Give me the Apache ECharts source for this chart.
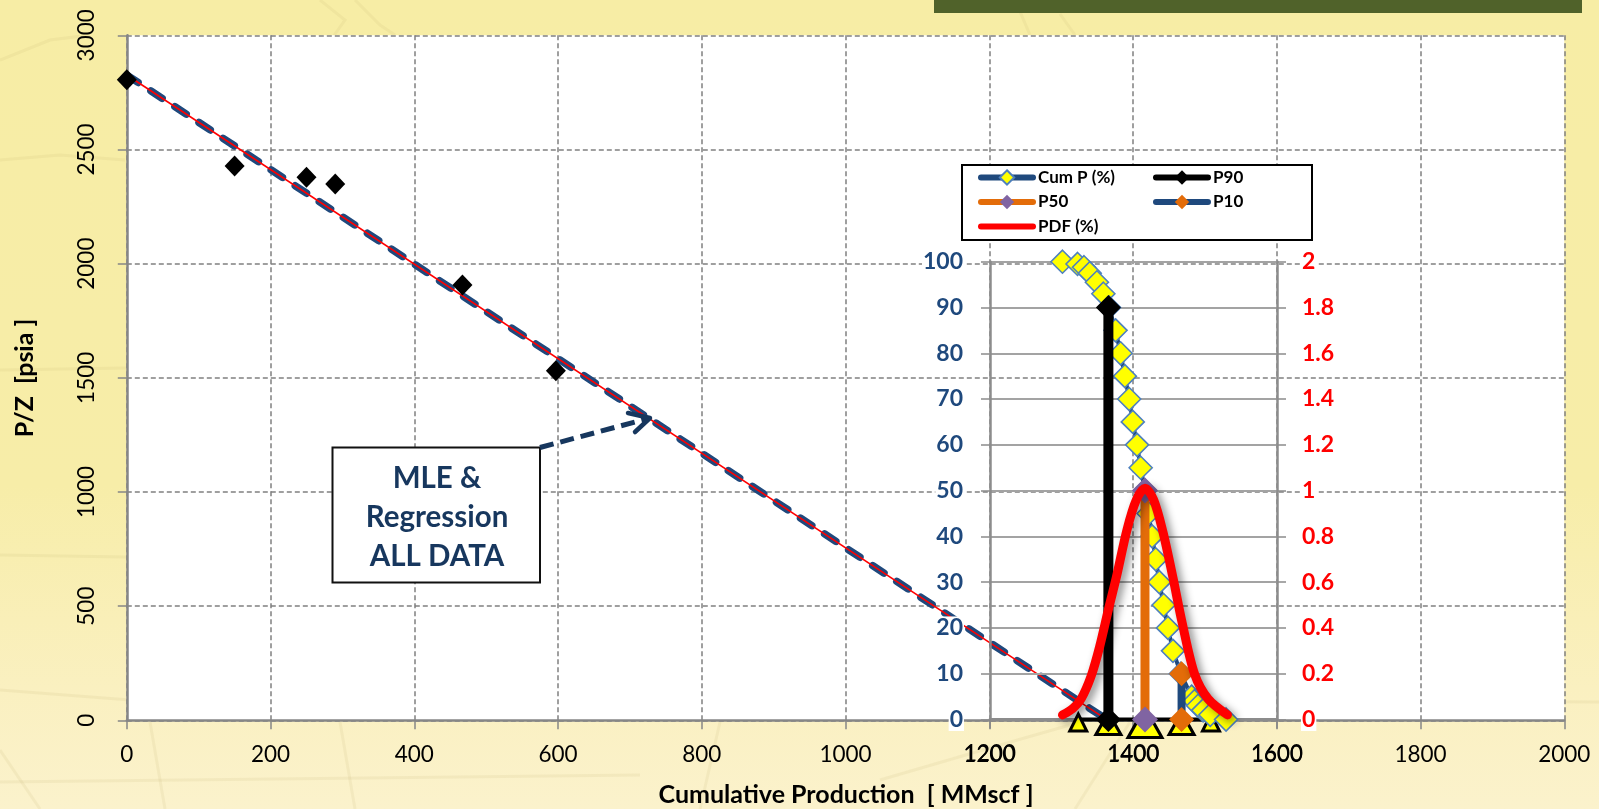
<!DOCTYPE html>
<html><head><meta charset="utf-8">
<style>html,body{margin:0;padding:0;background:#F7EDA6}#c{width:1599px;height:809px}</style>
<script src="https://cdn.jsdelivr.net/npm/echarts@6/dist/echarts.min.js"></script>
</head><body><div id="c"></div>
<script>
const pzData = [[0,2805],[150,2428],[250,2378],[290,2349],[467,1906],[597,1531]];
const regressionLine = [[0,2826],[1365,0]];
const cumPX = [1301,1322,1331,1339,1349,1358,1366,1375,1382,1388,1394,1399,1405,1410,1416,1421,1426,1431,1436,1442,1448,1455,1466,1481,1485,1490,1497,1507,1529];
const cumPY = [100,99.5,98.8,97.5,95.5,93,90,85,80,75,70,65,60,55,50,45,40,35,30,25,20,15,10,5,4,3,2,1,0];
const p90 = [[1365,0],[1365,90]];
const p50 = [[1416,0],[1416,50]];
const p10 = [[1467,0],[1467,10]];
const pdfX = [1301,1316,1327,1341,1353,1365,1376,1391,1404,1416,1428,1441,1455,1468,1485,1504,1531];
const pdfY = [0.02,0.05,0.09,0.19,0.32,0.48,0.62,0.83,0.96,1.01,0.96,0.82,0.62,0.42,0.2,0.09,0.02];
const triangleBase = [[1323,0],[1365,0],[1416,0],[1467,0],[1508,0]];
const triSmall = [[1323,0],[1508,0]];
const triMedium = [[1365,0],[1467,0]];
const triLarge = [[1416,0]];
const boxLines = ['MLE &','Regression','ALL DATA'];
const xTitle = 'Cumulative Production  [ MMscf ]';
const yTitle = 'P/Z  [psia ]';

const FONT = 'Lato';
const GREY = '#868686';
const zip = (a,b)=>a.map((v,i)=>[v,b[i]]);
const plain = v=>String(v);
const chart = echarts.init(document.getElementById('c'), null, {renderer:'canvas'});

const faint = {stroke:'rgba(190,170,110,0.12)', lineWidth:3, fill:'none'};
const bgLines = [
 [[0,690],[130,700],[420,703],[900,690],[1280,700],[1599,702]],
 [[320,0],[345,20],[325,48]],[[355,0],[380,25],[395,35]],
 [[1015,0],[1030,35]],[[1060,14],[1075,35]],[[0,160],[60,155],[125,160]],
 [[0,60],[50,40],[90,35]],[[150,722],[165,809]],[[340,722],[355,809]],[[720,722],[700,809]],
 [[0,370],[126,368]],[[0,555],[126,557]],[[0,750],[40,809]],[[1130,722],[1075,809]],
 [[880,780],[1000,745],[1070,725]],[[0,782],[640,775]]
];
const graphics = bgLines.map(p=>({type:'polyline',silent:true,z:-1,shape:{points:p},style:faint}));
graphics.push({type:'rect',silent:true,z:-1,shape:{x:934,y:0,width:648,height:13},style:{fill:'#50622A'}});
graphics.push({type:'rect',silent:true,z:8,shape:{x:962,y:165,width:350,height:75},style:{fill:'#fff',stroke:'#000',lineWidth:2}});
graphics.push({type:'rect',silent:true,z:8,shape:{x:332.5,y:447.5,width:207.5,height:135},style:{fill:'#fff',stroke:'#111',lineWidth:2}});
graphics.push({type:'polyline',silent:true,z:8,shape:{points:[[540,447.5],[648,418.5]]},style:{stroke:'#17375E',lineWidth:5,fill:'none',lineDash:[14,7]}});
graphics.push({type:'polyline',silent:true,z:8,shape:{points:[[628,413],[650,418],[635,432]]},style:{stroke:'#17375E',lineWidth:4.5,fill:'none',lineCap:'round',lineJoin:'round'}});
boxLines.forEach((t,i)=>graphics.push({type:'text',silent:true,z:9,style:{text:t,x:437,y:[478,517,556][i],align:'center',verticalAlign:'middle',font:'bold 29.5px '+FONT,fill:'#17375E'}}));
graphics.push({type:'text',silent:true,z:9,style:{text:xTitle,x:846,y:795,align:'center',verticalAlign:'middle',font:'bold 25px '+FONT,fill:'#000'}});
graphics.push({type:'text',silent:true,z:9,rotation:Math.PI/2,x:25,y:378,style:{text:yTitle,x:0,y:0,align:'center',verticalAlign:'middle',font:'bold 25px '+FONT,fill:'#000'}});

const tri = (name,data,size,off)=>({name,type:'scatter',xAxisIndex:1,yAxisIndex:1,data,clip:false,z:5,
  symbol:'triangle',symbolSize:size,symbolOffset:[0,off],itemStyle:{color:'#FFFF00',borderColor:'#000',borderWidth:3,opacity:1},silent:true});
const pLine = (name,data,col,mcol,w,size,z)=>({name,type:'line',xAxisIndex:1,yAxisIndex:1,data,z,clip:false,
  lineStyle:{color:col,width:w},symbol:'diamond',symbolSize:size,showSymbol:true,
  itemStyle:{color:mcol,borderWidth:0},silent:true});
const legendText = {fontFamily:FONT,fontWeight:'bold',fontSize:17,color:'#000'};
const legendLine = {width:6,cap:'round'};

chart.setOption({
 animation:false,
 backgroundColor:new echarts.graphic.LinearGradient(0,0,0,1,[
  {offset:0,color:'#F7EDA5'},{offset:0.6,color:'#F7EDA8'},{offset:0.85,color:'#FAF0C0'},{offset:1,color:'#FBF2CC'}]),
 textStyle:{fontFamily:FONT},
 grid:[
  {left:126.8,right:1599-1564.3,top:35.3,bottom:809-720.3,show:true,backgroundColor:'#fff',borderWidth:0},
  {left:990,right:1599-1277,top:261.7,bottom:809-719.5,show:false,borderWidth:0}
 ],
 xAxis:[
  {type:'value',gridIndex:0,min:0,max:2000,interval:200,z:1,
   axisLine:{lineStyle:{color:GREY,width:2.5},onZero:false},axisTick:{show:true,length:9,lineStyle:{color:GREY,width:1.5}},
   splitLine:{show:true,lineStyle:{color:'#808080',type:[5,3],width:1.5}},
   axisLabel:{color:'#000',fontFamily:FONT,fontSize:22.5,margin:23,formatter:plain,hideOverlap:false,showMinLabel:true,showMaxLabel:true}},
  {type:'value',gridIndex:1,min:1200,max:1600,interval:200,z:3,
   axisLine:{lineStyle:{color:'#8c8c8c',width:3},onZero:false},axisTick:{show:true,length:9,lineStyle:{color:GREY,width:1.5}},
   splitLine:{show:false},
   axisLabel:{color:'#000',fontFamily:FONT,fontSize:22.5,margin:23,formatter:plain,hideOverlap:false,showMinLabel:true,showMaxLabel:true}}
 ],
 yAxis:[
  {type:'value',gridIndex:0,min:0,max:3000,interval:500,z:1,
   axisLine:{show:true,lineStyle:{color:GREY,width:2.5},onZero:false},axisTick:{show:true,length:9,lineStyle:{color:GREY,width:1.5}},
   splitLine:{show:true,lineStyle:{color:'#808080',type:[5,3],width:1.5}},
   axisLabel:{color:'#000',fontFamily:FONT,fontSize:22.5,rotate:90,margin:40,formatter:plain,verticalAlign:'middle',align:'center',showMinLabel:true,showMaxLabel:true}},
  {type:'value',gridIndex:1,min:0,max:100,interval:10,z:3,position:'left',
   axisLine:{show:true,lineStyle:{color:'#8c8c8c',width:2.5},onZero:false},axisTick:{show:true,length:9,lineStyle:{color:'#8c8c8c',width:1.5}},
   splitLine:{show:true,lineStyle:{color:'#a3a3a3',width:2,type:'solid'}},
   axisLabel:{color:'#1F497D',fontFamily:FONT,fontWeight:'bold',fontSize:23,margin:26,backgroundColor:'#fff',padding:[0,1,0,1],showMinLabel:true,showMaxLabel:true}},
  {type:'value',gridIndex:1,min:0,max:2,interval:0.2,z:3,position:'right',
   axisLine:{show:true,lineStyle:{color:'#8c8c8c',width:2.5},onZero:false},axisTick:{show:true,length:9,lineStyle:{color:'#8c8c8c',width:1.5}},
   splitLine:{show:false},
   axisLabel:{color:'#FF0000',fontFamily:FONT,fontWeight:'bold',fontSize:23,margin:24,backgroundColor:'#fff',padding:[0,1,0,1],showMinLabel:true,showMaxLabel:true}}
 ],
 legend:[
  {left:978,top:169,padding:0,orient:'vertical',itemGap:7.5,itemWidth:52,itemHeight:18,z:10,
   data:['Cum P (%)','P50',{name:'PDF (%)',itemStyle:{opacity:0}}],lineStyle:legendLine,textStyle:legendText},
  {left:1153,top:169,padding:0,orient:'vertical',itemGap:7.5,itemWidth:52,itemHeight:18,z:10,
   data:['P90','P10'],lineStyle:legendLine,textStyle:legendText}
 ],
 graphic:graphics,
 series:[
  {name:'Regression dash',type:'line',xAxisIndex:0,yAxisIndex:0,data:regressionLine,z:2,symbol:'none',silent:true,
   lineStyle:{color:'#1F497D',width:7.5,type:[13.5,15.3],cap:'round'}},
  {name:'Regression',type:'line',xAxisIndex:0,yAxisIndex:0,data:regressionLine,z:2,symbol:'none',silent:true,
   lineStyle:{color:'#FF0000',width:1.6}},
  {name:'P/Z',type:'scatter',xAxisIndex:0,yAxisIndex:0,data:pzData,z:2,symbol:'diamond',symbolSize:[20,21],clip:false,silent:true,
   itemStyle:{color:'#000',opacity:1}},
  {name:'Triangle base',type:'line',xAxisIndex:1,yAxisIndex:1,data:triangleBase,z:5,symbol:'none',clip:false,silent:true,
   lineStyle:{color:'#000',width:4}},
  tri('T small',triSmall,[17,17],3),
  tri('T medium',triMedium,[25,22],4),
  tri('T large',triLarge,[34,30],3),
  {name:'Cum P (%)',type:'line',xAxisIndex:1,yAxisIndex:1,data:zip(cumPX,cumPY),z:6,clip:false,silent:true,
   lineStyle:{color:'#1F497D',width:4},symbol:'diamond',symbolSize:23,showAllSymbol:true,
   itemStyle:{color:'#FFFF00',borderColor:'#4F81BD',borderWidth:1.6}},
  pLine('P10',p10,'#1F497D','#E36C09',8,25,7),
  pLine('P50',p50,'#E36C09','#8064A2',9,26,7),
  pLine('P90',p90,'#000','#000',10,25,7),
  {name:'PDF (%)',type:'line',xAxisIndex:1,yAxisIndex:2,data:zip(pdfX,pdfY),z:8,smooth:0.3,symbol:'none',clip:false,silent:true,
   lineStyle:{color:'#FF0000',width:9,cap:'round',shadowColor:'rgba(0,0,0,0.45)',shadowBlur:9,shadowOffsetX:4,shadowOffsetY:3}}
 ]
});
</script></body></html>
